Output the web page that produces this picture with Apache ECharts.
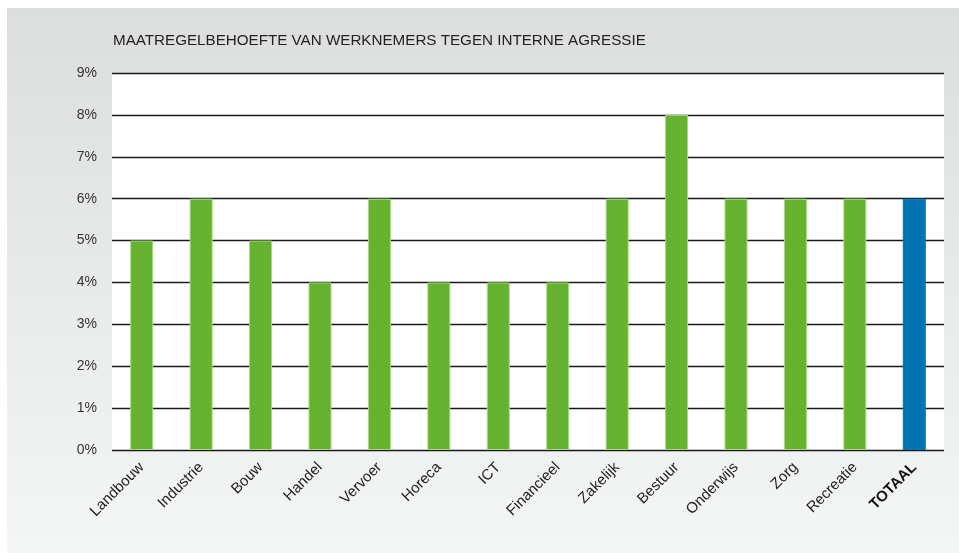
<!DOCTYPE html>
<html>
<head>
<meta charset="utf-8">
<script src="https://cdn.jsdelivr.net/npm/echarts@6/dist/echarts.min.js"></script>
<style>
  html, body { margin: 0; padding: 0; background: #fff; }
  #chart { width: 959px; height: 553px; }
</style>
</head>
<body>
<div id="chart"></div>
<script>
var categories = ['Landbouw', 'Industrie', 'Bouw', 'Handel', 'Vervoer', 'Horeca', 'ICT',
                  'Financieel', 'Zakelijk', 'Bestuur', 'Onderwijs', 'Zorg', 'Recreatie', 'TOTAAL'];
var values = [5, 6, 5, 4, 6, 4, 4, 4, 6, 8, 6, 6, 6, 6];
var totalIndex = 13;

var myChart = echarts.init(document.getElementById('chart'));

var barData = values.map(function(v, i){
    if (i === totalIndex) {
        return { value: v, itemStyle: { color: '#0074b3', borderColor: '#0074b3' } };
    }
    return v;
});

var option = {
    animation: false,
    graphic: [
        {
            type: 'rect',
            z: -10,
            shape: { x: 7, y: 8, width: 952, height: 545 },
            style: {
                fill: new echarts.graphic.LinearGradient(0, 0, 0, 1, [
                    { offset: 0, color: '#dcdddd' },
                    { offset: 1, color: '#f4f5f5' }
                ])
            }
        },
        {
            type: 'text',
            left: 113,
            top: 33,
            style: {
                text: 'MAATREGELBEHOEFTE VAN WERKNEMERS TEGEN INTERNE AGRESSIE',
                font: '15.2px "Liberation Sans", Arial, sans-serif',
                fill: '#222'
            }
        }
    ],
    grid: {
        left: 112,
        right: 15,
        top: 73,
        bottom: 103,
        show: true,
        backgroundColor: '#ffffff',
        borderWidth: 0
    },
    xAxis: {
        type: 'category',
        data: categories,
        axisLine: { show: false },
        axisTick: { show: false },
        axisLabel: {
            rotate: 45,
            interval: 0,
            margin: 15,
            fontSize: 15,
            color: '#222',
            fontFamily: '"Liberation Sans", Arial, sans-serif',
            formatter: function(v){
                return v === 'TOTAAL' ? '{b|' + v + '}' : v;
            },
            rich: {
                b: { fontWeight: 'bold', fontSize: 15, color: '#111' }
            }
        }
    },
    yAxis: {
        type: 'value',
        min: 0,
        max: 9,
        interval: 1,
        axisLine: { show: false },
        axisTick: { show: false },
        axisLabel: {
            margin: 15,
            fontSize: 14,
            color: '#333',
            fontFamily: '"Liberation Sans", Arial, sans-serif',
            formatter: '{value}%'
        },
        splitLine: { lineStyle: { color: '#1a1a1a', width: 1.3 } }
    },
    series: [
        {
            type: 'bar',
            data: barData,
            barWidth: 23,
            itemStyle: {
                color: '#64b22e',
                borderColor: '#a9d88a',
                borderWidth: 1
            }
        }
    ]
};
myChart.setOption(option);
</script>
</body>
</html>
